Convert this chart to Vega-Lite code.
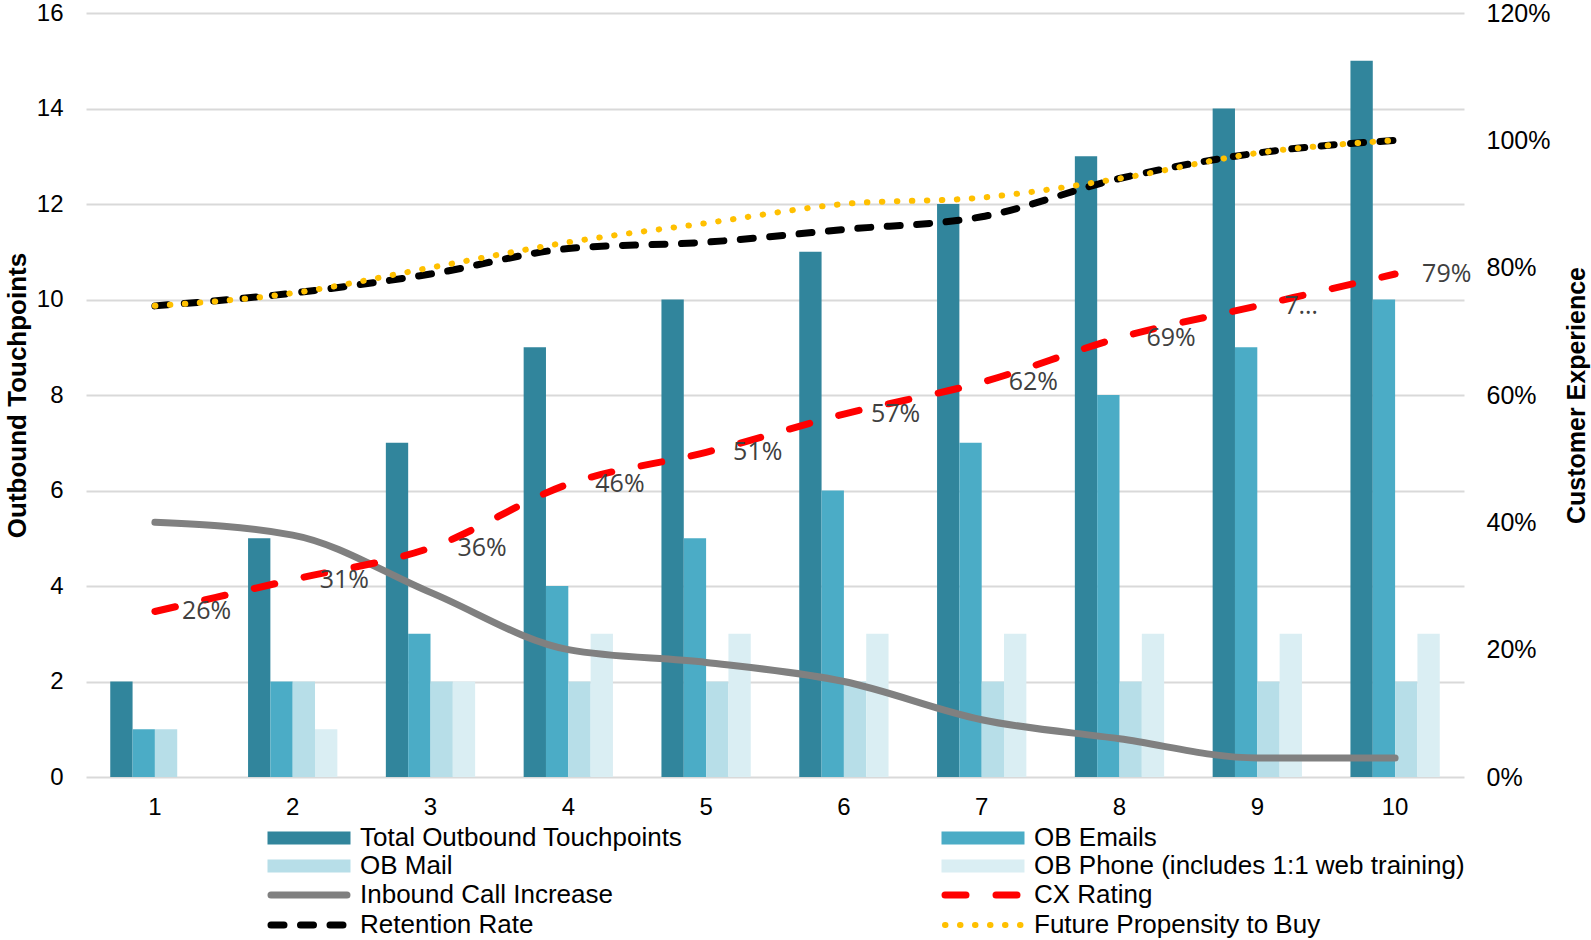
{
  "$schema": "https://vega.github.io/schema/vega-lite/v6.json",
  "width": 1378,
  "height": 764,
  "autosize": {"type": "none"},
  "padding": {"left": 86, "top": 13, "right": 127, "bottom": 163},
  "background": "white",
  "config": {
    "view": {"stroke": null},
    "axis": {
      "labelFont": "Liberation Sans",
      "labelFontSize": 24,
      "labelColor": "#000000",
      "titleFont": "Liberation Sans",
      "titleFontSize": 26,
      "titleFontWeight": "bold",
      "titleColor": "#000000",
      "ticks": false,
      "tickSize": 0,
      "domain": false,
      "gridColor": "#d9d9d9",
      "gridWidth": 2
    }
  },
  "datasets": {
    "bars": [
      {"cat": 1, "series": "Total Outbound Touchpoints", "count": 2},
      {"cat": 2, "series": "Total Outbound Touchpoints", "count": 5},
      {"cat": 3, "series": "Total Outbound Touchpoints", "count": 7},
      {"cat": 4, "series": "Total Outbound Touchpoints", "count": 9},
      {"cat": 5, "series": "Total Outbound Touchpoints", "count": 10},
      {"cat": 6, "series": "Total Outbound Touchpoints", "count": 11},
      {"cat": 7, "series": "Total Outbound Touchpoints", "count": 12},
      {"cat": 8, "series": "Total Outbound Touchpoints", "count": 13},
      {"cat": 9, "series": "Total Outbound Touchpoints", "count": 14},
      {"cat": 10, "series": "Total Outbound Touchpoints", "count": 15},
      {"cat": 1, "series": "OB Emails", "count": 1},
      {"cat": 2, "series": "OB Emails", "count": 2},
      {"cat": 3, "series": "OB Emails", "count": 3},
      {"cat": 4, "series": "OB Emails", "count": 4},
      {"cat": 5, "series": "OB Emails", "count": 5},
      {"cat": 6, "series": "OB Emails", "count": 6},
      {"cat": 7, "series": "OB Emails", "count": 7},
      {"cat": 8, "series": "OB Emails", "count": 8},
      {"cat": 9, "series": "OB Emails", "count": 9},
      {"cat": 10, "series": "OB Emails", "count": 10},
      {"cat": 1, "series": "OB Mail", "count": 1},
      {"cat": 2, "series": "OB Mail", "count": 2},
      {"cat": 3, "series": "OB Mail", "count": 2},
      {"cat": 4, "series": "OB Mail", "count": 2},
      {"cat": 5, "series": "OB Mail", "count": 2},
      {"cat": 6, "series": "OB Mail", "count": 2},
      {"cat": 7, "series": "OB Mail", "count": 2},
      {"cat": 8, "series": "OB Mail", "count": 2},
      {"cat": 9, "series": "OB Mail", "count": 2},
      {"cat": 10, "series": "OB Mail", "count": 2},
      {"cat": 2, "series": "OB Phone (includes 1:1 web training)", "count": 1},
      {"cat": 3, "series": "OB Phone (includes 1:1 web training)", "count": 2},
      {"cat": 4, "series": "OB Phone (includes 1:1 web training)", "count": 3},
      {"cat": 5, "series": "OB Phone (includes 1:1 web training)", "count": 3},
      {"cat": 6, "series": "OB Phone (includes 1:1 web training)", "count": 3},
      {"cat": 7, "series": "OB Phone (includes 1:1 web training)", "count": 3},
      {"cat": 8, "series": "OB Phone (includes 1:1 web training)", "count": 3},
      {"cat": 9, "series": "OB Phone (includes 1:1 web training)", "count": 3},
      {"cat": 10, "series": "OB Phone (includes 1:1 web training)", "count": 3}
    ],
    "lines": [
      {"cat": 1, "series": "Inbound Call Increase", "pct": 0.40},
      {"cat": 2, "series": "Inbound Call Increase", "pct": 0.38},
      {"cat": 3, "series": "Inbound Call Increase", "pct": 0.29},
      {"cat": 4, "series": "Inbound Call Increase", "pct": 0.20},
      {"cat": 5, "series": "Inbound Call Increase", "pct": 0.18},
      {"cat": 6, "series": "Inbound Call Increase", "pct": 0.15},
      {"cat": 7, "series": "Inbound Call Increase", "pct": 0.09},
      {"cat": 8, "series": "Inbound Call Increase", "pct": 0.06},
      {"cat": 9, "series": "Inbound Call Increase", "pct": 0.03},
      {"cat": 10, "series": "Inbound Call Increase", "pct": 0.03},
      {"cat": 1, "series": "CX Rating", "pct": 0.26, "label": "26%"},
      {"cat": 2, "series": "CX Rating", "pct": 0.31, "label": "31%"},
      {"cat": 3, "series": "CX Rating", "pct": 0.36, "label": "36%"},
      {"cat": 4, "series": "CX Rating", "pct": 0.46, "label": "46%"},
      {"cat": 5, "series": "CX Rating", "pct": 0.51, "label": "51%"},
      {"cat": 6, "series": "CX Rating", "pct": 0.57, "label": "57%"},
      {"cat": 7, "series": "CX Rating", "pct": 0.62, "label": "62%"},
      {"cat": 8, "series": "CX Rating", "pct": 0.69, "label": "69%"},
      {"cat": 9, "series": "CX Rating", "pct": 0.74, "label": "7…"},
      {"cat": 10, "series": "CX Rating", "pct": 0.79, "label": "79%"},
      {"cat": 1, "series": "Retention Rate", "pct": 0.74},
      {"cat": 2, "series": "Retention Rate", "pct": 0.76},
      {"cat": 3, "series": "Retention Rate", "pct": 0.79},
      {"cat": 4, "series": "Retention Rate", "pct": 0.83},
      {"cat": 5, "series": "Retention Rate", "pct": 0.84},
      {"cat": 6, "series": "Retention Rate", "pct": 0.86},
      {"cat": 7, "series": "Retention Rate", "pct": 0.88},
      {"cat": 8, "series": "Retention Rate", "pct": 0.94},
      {"cat": 9, "series": "Retention Rate", "pct": 0.98},
      {"cat": 10, "series": "Retention Rate", "pct": 1.00},
      {"cat": 1, "series": "Future Propensity to Buy", "pct": 0.74},
      {"cat": 2, "series": "Future Propensity to Buy", "pct": 0.76},
      {"cat": 3, "series": "Future Propensity to Buy", "pct": 0.80},
      {"cat": 4, "series": "Future Propensity to Buy", "pct": 0.84},
      {"cat": 5, "series": "Future Propensity to Buy", "pct": 0.87},
      {"cat": 6, "series": "Future Propensity to Buy", "pct": 0.90},
      {"cat": 7, "series": "Future Propensity to Buy", "pct": 0.91},
      {"cat": 8, "series": "Future Propensity to Buy", "pct": 0.94},
      {"cat": 9, "series": "Future Propensity to Buy", "pct": 0.98},
      {"cat": 10, "series": "Future Propensity to Buy", "pct": 1.00}
    ]
  },
  "layer": [
    {
      "data": {"name": "bars"},
      "mark": {"type": "bar"},
      "encoding": {
        "x": {
          "field": "cat",
          "type": "ordinal",
          "scale": {"paddingInner": 0.352, "paddingOuter": 0.176},
          "axis": {"title": null, "labelAngle": 0, "labelPadding": 18, "grid": false}
        },
        "xOffset": {
          "field": "series",
          "type": "nominal",
          "scale": {"domain": ["Total Outbound Touchpoints", "OB Emails", "OB Mail", "OB Phone (includes 1:1 web training)"]}
        },
        "y": {
          "field": "count",
          "type": "quantitative",
          "scale": {"domain": [0, 16], "nice": false},
          "axis": {"title": "Outbound Touchpoints", "values": [0, 2, 4, 6, 8, 10, 12, 14, 16], "labelPadding": 23, "titlePadding": 6, "grid": true}
        },
        "color": {
          "field": "series",
          "type": "nominal",
          "scale": {
            "domain": ["Total Outbound Touchpoints", "OB Mail", "Inbound Call Increase", "Retention Rate", "OB Emails", "OB Phone (includes 1:1 web training)", "CX Rating", "Future Propensity to Buy"],
            "range": ["#31859c", "#b7dee8", "#808080", "#000000", "#4bacc6", "#daeef3", "#ff0000", "#ffc000"]
          },
          "legend": {
            "orient": "none",
            "legendX": 182,
            "legendY": 812,
            "columns": 2,
            "columnPadding": 247,
            "rowPadding": 2,
            "symbolSize": 729,
            "symbolOffset": 28,
            "labelOffset": 38,
            "labelFont": "Liberation Sans",
            "labelFontSize": 26,
            "labelColor": "#000000",
            "labelLimit": 700,
            "title": null,
            "padding": 0,
            "encode": {
              "symbols": {
                "update": {
                  "shape": {"signal": "indexof(['Inbound Call Increase','CX Rating','Retention Rate','Future Propensity to Buy'], datum.value) < 0 ? 'M-3.074,-0.48H3.074V0.48H-3.074Z' : 'M-2.815,0H2.815'"},
                  "fill": {"signal": "indexof(['Inbound Call Increase','CX Rating','Retention Rate','Future Propensity to Buy'], datum.value) < 0 ? scale('color', datum.value) : 'transparent'"},
                  "stroke": {"signal": "scale('color', datum.value)"},
                  "strokeWidth": {"signal": "datum.value === 'Future Propensity to Buy' ? 6 : (indexof(['Inbound Call Increase','CX Rating','Retention Rate'], datum.value) < 0 ? 0 : 7)"},
                  "strokeDash": {"signal": "datum.value === 'CX Rating' ? [21, 30] : (datum.value === 'Retention Rate' ? [13, 16.5] : (datum.value === 'Future Propensity to Buy' ? [0.5, 14.5] : [1, 0]))"},
                  "strokeCap": {"value": "round"},
                  "opacity": {"value": 1}
                }
              }
            }
          }
        }
      }
    },
    {
      "data": {"name": "lines"},
      "encoding": {
        "x": {"field": "cat", "type": "ordinal"},
        "y": {
          "field": "pct",
          "type": "quantitative",
          "scale": {"domain": [0, 1.2], "nice": false},
          "axis": {
            "orient": "right",
            "title": "Customer Experience",
            "values": [0, 0.2, 0.4, 0.6, 0.8, 1.0, 1.2],
            "format": ".0%",
            "grid": false,
            "labelFontSize": 25,
            "labelPadding": 22,
            "titleFontSize": 25,
            "titleAngle": -90,
            "titleBaseline": "top",
            "titlePadding": 15
          }
        }
      },
      "layer": [
        {
          "transform": [{"filter": "datum.series === 'Inbound Call Increase'"}],
          "mark": {"type": "line", "strokeWidth": 7, "interpolate": "monotone", "strokeCap": "round"},
          "encoding": {"color": {"field": "series", "type": "nominal", "legend": null}}
        },
        {
          "transform": [{"filter": "datum.series === 'CX Rating'"}],
          "mark": {"type": "line", "strokeWidth": 7, "interpolate": "monotone", "strokeCap": "round", "strokeDash": [21, 30]},
          "encoding": {"color": {"field": "series", "type": "nominal", "legend": null}}
        },
        {
          "transform": [{"filter": "datum.series === 'Retention Rate'"}],
          "mark": {"type": "line", "strokeWidth": 7, "interpolate": "monotone", "strokeCap": "round", "strokeDash": [13, 16.5]},
          "encoding": {"color": {"field": "series", "type": "nominal", "legend": null}}
        },
        {
          "transform": [{"filter": "datum.series === 'Future Propensity to Buy'"}],
          "mark": {"type": "line", "strokeWidth": 6, "interpolate": "monotone", "strokeCap": "round", "strokeDash": [0.5, 14.5]},
          "encoding": {"color": {"field": "series", "type": "nominal", "legend": null}}
        },
        {
          "transform": [{"filter": "datum.series === 'CX Rating'"}],
          "mark": {"type": "text", "align": "left", "baseline": "middle", "dx": 27, "font": "Open Sans", "fontSize": 25, "color": "#404040"},
          "encoding": {"text": {"field": "label"}}
        }
      ]
    }
  ],
  "resolve": {"scale": {"y": "independent"}, "axis": {"y": "independent"}}
}
